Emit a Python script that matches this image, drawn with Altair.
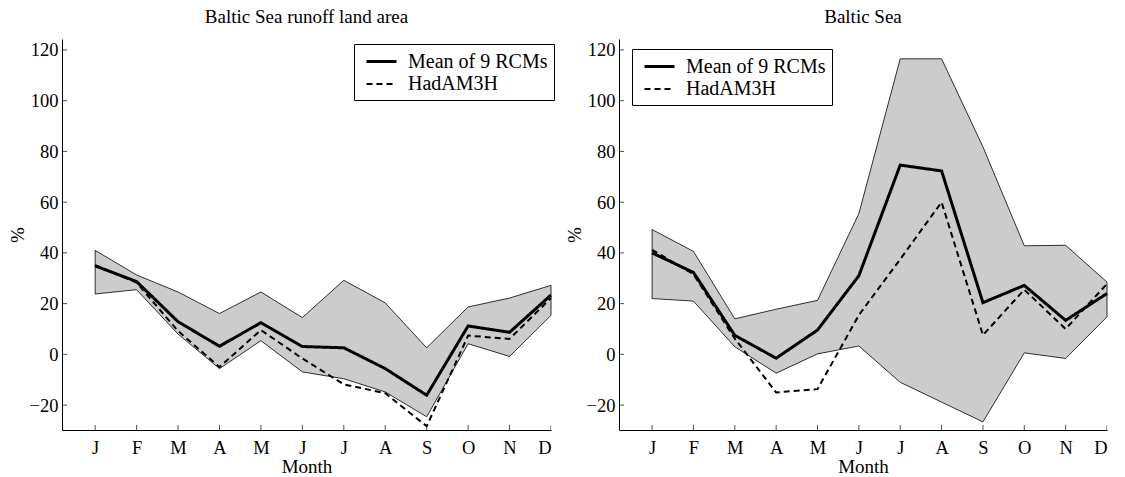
import altair as alt
import pandas as pd

# ---------------- data ----------------
months = list(range(1, 13))
month_labels = ["J", "F", "M", "A", "M", "J", "J", "A", "S", "O", "N", "D"]
y_tick_values = [-20, 0, 20, 40, 60, 80, 100, 120]
series_names = ["Mean of 9 RCMs", "HadAM3H"]

# Baltic Sea runoff land area
land_upper = [41, 31.3, 24.6, 16.1, 24.6, 14.5, 29.2, 20.3, 2.6, 18.7, 22.2, 27.2]
land_lower = [23.8, 25.5, 8, -5.6, 5.4, -6.9, -9.6, -14.8, -24.6, 4.2, -0.8, 15.4]
land_mean = [34.9, 28.7, 12.9, 3.2, 12.5, 3.1, 2.6, -5.6, -16.1, 11.2, 8.7, 23.4]
land_had = [35.2, 28.3, 9.2, -5, 9.6, -1.6, -11.8, -15.3, -28.3, 7.4, 6.1, 22.2]

# Baltic Sea
sea_upper = [49.2, 40.6, 14, 17.8, 21.3, 55.5, 116.5, 116.5, 81.8, 42.8, 43, 28.5]
sea_lower = [22, 21, 3, -7.4, 0.2, 3.3, -11, -18.8, -26.6, 0.6, -1.6, 14.8]
sea_mean = [40, 32.3, 7.5, -1.5, 9.6, 31, 74.6, 72.3, 20.4, 27.2, 13.4, 24]
sea_had = [41.2, 31.6, 6.2, -15, -13.7, 15.5, 37.5, 60, 7.6, 25.5, 10, 27.8]

X_DOMAIN = [0.2, 12]
Y_DOMAIN = [-29.8, 124.3]

FONT = "Liberation Serif"
PLOT_H = 391


def panel(title, upper, lower, mean, had, legend_x, legend_y, width):
    band_df = pd.DataFrame({"month": months, "upper": upper, "lower": lower})
    line_df = pd.DataFrame(
        {
            "month": months * 2,
            "value": mean + had,
            "series": [series_names[0]] * 12 + [series_names[1]] * 12,
        }
    )
    ytick_df = pd.DataFrame({"v": y_tick_values})
    xtick_df = pd.DataFrame({"month": months})

    xscale = alt.Scale(domain=X_DOMAIN, nice=False, zero=False)
    yscale = alt.Scale(domain=Y_DOMAIN, nice=False, zero=False)

    label_expr = "[" + ",".join("'%s'" % m for m in month_labels) + "][datum.value - 1]"
    xaxis = alt.Axis(
        values=months,
        labelExpr=label_expr,
        title="Month",
        ticks=False,
        labelPadding=8,
        titlePadding=1,
    )
    yaxis = alt.Axis(values=y_tick_values, title="%", ticks=False, labelPadding=4, titlePadding=2)

    band = (
        alt.Chart(band_df)
        .mark_area(fill="#cccccc", stroke="black", strokeWidth=0.8, opacity=1)
        .encode(
            x=alt.X("month:Q", scale=xscale, axis=xaxis),
            y=alt.Y("lower:Q", scale=yscale, axis=yaxis),
            y2="upper:Q",
        )
    )

    leg = alt.Legend(
        title=None,
        orient="none",
        legendX=legend_x,
        legendY=legend_y,
        strokeColor="black",
        fillColor="white",
        padding=6,
        symbolOffset=10,
        symbolType="M-1.5,0H1.5",
        symbolSize=400,
        symbolStrokeColor="black",
        labelFont=FONT,
        labelFontSize=20,
        labelColor="black",
        labelOffset=15,
        rowPadding=1,
        cornerRadius=0,
    )

    lines = (
        alt.Chart(line_df)
        .mark_line()
        .encode(
            x=alt.X("month:Q", scale=xscale),
            y=alt.Y("value:Q", scale=yscale),
            color=alt.Color(
                "series:N",
                scale=alt.Scale(domain=series_names, range=["black", "black"]),
                legend=leg,
            ),
            strokeDash=alt.StrokeDash(
                "series:N",
                scale=alt.Scale(domain=series_names, range=[[1, 0], [6, 4]]),
                legend=leg,
            ),
            strokeWidth=alt.StrokeWidth(
                "series:N",
                scale=alt.Scale(domain=series_names, range=[3, 2]),
                legend=leg,
            ),
        )
    )

    yticks = (
        alt.Chart(ytick_df)
        .mark_tick(orient="horizontal", size=10, thickness=1, color="black", clip=True)
        .encode(y=alt.Y("v:Q", scale=yscale), x=alt.datum(X_DOMAIN[0]))
    )
    xticks = (
        alt.Chart(xtick_df)
        .mark_tick(orient="vertical", size=10, thickness=1, color="black", clip=True)
        .encode(x=alt.X("month:Q", scale=xscale), y=alt.datum(Y_DOMAIN[0]))
    )

    return (
        alt.layer(band, lines, yticks, xticks)
        .properties(
            width=width,
            height=PLOT_H,
            title=alt.TitleParams(
                text=title,
                font=FONT,
                fontSize=19,
                fontWeight="normal",
                color="black",
                anchor="middle",
                frame="group",
                offset=12,
            ),
        )
    )


left = panel("Baltic Sea runoff land area", land_upper, land_lower, land_mean, land_had, 292, 5, 489)
right = panel("Baltic Sea", sea_upper, sea_lower, sea_mean, sea_had, 13, 10, 488)

chart = (
    alt.hconcat(left, right, spacing=8)
    .resolve_scale(color="independent", strokeDash="independent", strokeWidth="independent")
    .resolve_legend(color="independent", strokeDash="independent", strokeWidth="independent")
    .properties(padding={"left": 8, "top": 8, "right": 2, "bottom": 0}, background="white")
    .configure_view(stroke=None)
    .configure_legend(labelFont=FONT, labelFontSize=20, labelColor="black")
    .configure_axis(
        grid=False,
        domainColor="black",
        domainWidth=1,
        labelFont=FONT,
        labelFontSize=18.5,
        labelColor="black",
        titleFont=FONT,
        titleFontSize=19,
        titleFontWeight="normal",
        titleColor="black",
    )
)

chart.save("out.html", embed_options={"renderer": "svg", "actions": False})
